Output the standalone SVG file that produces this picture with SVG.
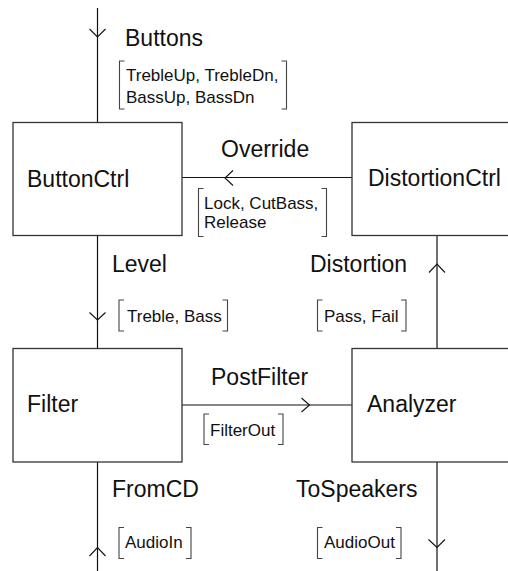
<svg xmlns="http://www.w3.org/2000/svg" width="508" height="571" viewBox="0 0 508 571">
<style>
.box{fill:#fff;stroke:#333;stroke-width:1.3}
.ln{fill:none;stroke:#111;stroke-width:1.2}
.ah{fill:none;stroke:#111;stroke-width:1.1}
.br{fill:none;stroke:#444;stroke-width:1.1}
.lbl{font-family:"Liberation Sans",Arial,sans-serif;font-size:23px;fill:#111}
.sm{font-family:"Liberation Sans",Arial,sans-serif;font-size:17px;fill:#111}
</style>
<rect width="508" height="571" fill="#fff"/>
<g id="connectors">
  <!-- Buttons -->
  <line class="ln" x1="97.5" y1="8" x2="97.5" y2="122.5"/>
  <polyline class="ah" points="89.5,29 97.5,37 105.5,29"/>
  <text class="lbl" x="125" y="46">Buttons</text>
  <path class="br" d="M124.5,61 H119.5 V109 H124.5 M281.5,61 H286.5 V109 H281.5"/>
  <text class="sm" x="126" y="81">TrebleUp, TrebleDn,</text>
  <text class="sm" x="126" y="103">BassUp, BassDn</text>
  <!-- Override -->
  <line class="ln" x1="182" y1="177.5" x2="352" y2="177.5"/>
  <polyline class="ah" points="233,170.5 225,178 233,185.5"/>
  <text class="lbl" x="221" y="157">Override</text>
  <path class="br" d="M203.5,188.5 H198.5 V236.5 H203.5 M321.5,188.5 H326.5 V236.5 H321.5"/>
  <text class="sm" x="204" y="209">Lock, CutBass,</text>
  <text class="sm" x="204" y="228">Release</text>
  <!-- Level -->
  <line class="ln" x1="97.5" y1="235.5" x2="97.5" y2="348.5"/>
  <polyline class="ah" points="89.5,312.5 97.5,320 105.5,312.5"/>
  <text class="lbl" x="112" y="272">Level</text>
  <path class="br" d="M124,300 H119 V331 H124 M222.5,300 H227.5 V331 H222.5"/>
  <text class="sm" x="127" y="322">Treble, Bass</text>
  <!-- Distortion -->
  <line class="ln" x1="437" y1="235.5" x2="437" y2="348.5"/>
  <polyline class="ah" points="429,272.5 437,264 445,272.5"/>
  <text class="lbl" x="310" y="272">Distortion</text>
  <path class="br" d="M322.5,300 H317.5 V331 H322.5 M401,300 H406 V331 H401"/>
  <text class="sm" x="324" y="322">Pass, Fail</text>
  <!-- PostFilter -->
  <line class="ln" x1="182" y1="405" x2="352" y2="405"/>
  <polyline class="ah" points="301.5,398 309.5,405 301.5,412"/>
  <text class="lbl" x="211" y="385">PostFilter</text>
  <path class="br" d="M209,414 H204 V444.5 H209 M278,414 H283 V444.5 H278"/>
  <text class="sm" x="210" y="436">FilterOut</text>
  <!-- FromCD -->
  <line class="ln" x1="97.5" y1="462" x2="97.5" y2="571"/>
  <polyline class="ah" points="89.5,556 97.5,547.5 105.5,556"/>
  <text class="lbl" x="112" y="497">FromCD</text>
  <path class="br" d="M124,527.5 H119 V558.5 H124 M186,527.5 H191 V558.5 H186"/>
  <text class="sm" x="125" y="548">AudioIn</text>
  <!-- ToSpeakers -->
  <line class="ln" x1="437" y1="462" x2="437" y2="571"/>
  <polyline class="ah" points="428.5,539.5 437,547.5 445,539.5"/>
  <text class="lbl" x="296" y="497">ToSpeakers</text>
  <path class="br" d="M322.5,527.5 H317.5 V558.5 H322.5 M396,527.5 H401 V558.5 H396"/>
  <text class="sm" x="324" y="548">AudioOut</text>
</g>
<g id="ButtonCtrl">
  <rect class="box" x="13" y="122.5" width="169" height="113"/>
  <text class="lbl" x="27" y="187">ButtonCtrl</text>
</g>
<g id="DistortionCtrl">
  <rect class="box" x="352" y="122.5" width="169" height="113"/>
  <text class="lbl" x="368" y="186">DistortionCtrl</text>
</g>
<g id="Filter">
  <rect class="box" x="13" y="348.5" width="169" height="113.5"/>
  <text class="lbl" x="27" y="412">Filter</text>
</g>
<g id="Analyzer">
  <rect class="box" x="352" y="348.5" width="169" height="113.5"/>
  <text class="lbl" x="367" y="412">Analyzer</text>
</g>
</svg>
